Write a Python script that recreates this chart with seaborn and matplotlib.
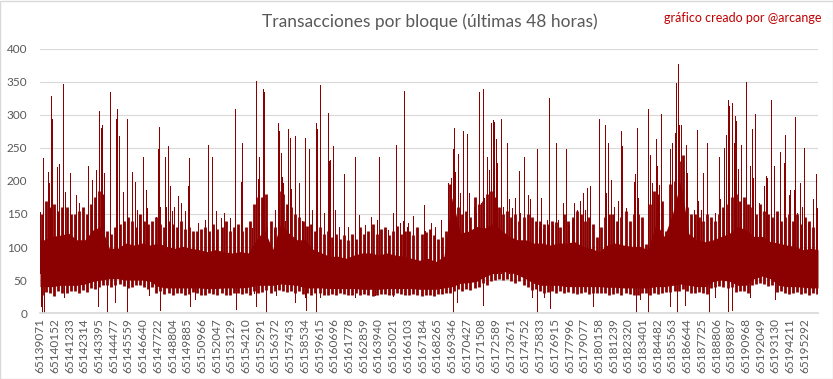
import numpy as np
import pandas as pd
import matplotlib
matplotlib.use("Agg")
import matplotlib.pyplot as plt
import seaborn as sns

# block range shown (last 48 hours)
first_block = 65139071
n_blocks = 57200
seg_len = 600      # solid body resolution
fringe_len = 300   # fringe (ragged edge) resolution

x_labels = ["65139071", "65140152", "65141233", "65142314", "65143395", "65144477", "65145559",
            "65146640", "65147722", "65148804", "65149885", "65150966", "65152047", "65153129",
            "65154210", "65155291", "65156372", "65157453", "65158534", "65159615", "65160696",
            "65161778", "65162859", "65163940", "65165021", "65166103", "65167184", "65168265",
            "65169346", "65170427", "65171508", "65172589", "65173671", "65174752", "65175833",
            "65176915", "65177996", "65179077", "65180158", "65181239", "65182320", "65183401",
            "65184482", "65185563", "65186644", "65187725", "65188806", "65189887", "65190968",
            "65192049", "65193130", "65194211", "65195292"]

# solid part of the series, per 600-block segment (upper / lower edge)
body_hi = [111, 116, 118, 121, 111, 111, 126, 131, 98, 98, 106, 103, 106, 103, 106, 101,
           98, 101, 98, 96, 93, 96, 93, 91, 93, 91, 111, 126, 96, 136, 121, 111,
           111, 96, 91, 86, 86, 83, 88, 91, 91, 88, 91, 88, 86, 83, 80, 83,
           78, 86, 175, 121, 124, 131, 129, 136, 126, 116, 111, 111, 106, 106,
           103, 106, 106, 108, 101, 98, 93, 103, 106, 103, 101, 101, 96, 136, 116, 150,
           200, 120, 111, 108, 111, 116, 121, 131, 126, 116, 116, 108, 106, 103, 101, 96, 98, 96]
body_lo = [40, 40, 42, 42, 42, 44, 48, 50, 52, 52, 50, 50, 50, 48,
           40, 38, 38, 38, 38, 38, 37, 37, 38, 38, 38, 39,
           42, 42, 42, 44, 43, 42,
           38, 38, 38, 37, 37, 37, 37, 36, 36, 36, 37, 37, 37, 37, 36, 36, 36, 38, 40,
           45, 46, 48, 55, 60, 63, 62, 58, 52, 45, 42, 42, 42,
           40, 40, 40, 40, 40, 39, 39, 38, 38, 38, 38, 40, 40, 42, 44, 42, 40, 40,
           48, 50, 48, 42, 42, 52, 56, 52, 42, 40, 40, 39, 38, 38]

# ragged edges, per 300-block half segment (highest / lowest block in each)
fringe_hi = [150, 170, 160, 165, 155, 160, 160, 150, 150, 155, 160, 150, 165, 175, 185, 180,
             125, 120, 130, 135, 140, 145, 140, 130, 150, 140, 135, 140, 145, 135, 130, 140,
             135, 130, 140, 128, 130, 125, 125, 128, 130, 125, 135, 128, 130, 140, 125, 130,
             135, 125, 130, 140, 165, 175, 175, 180, 140, 130, 185, 180, 165, 160, 150, 145,
             140, 132, 135, 125, 130, 120, 125, 115, 120, 112, 118, 110, 120, 112, 130, 120,
             125, 135, 120, 128, 130, 118, 125, 132, 120, 125, 125, 118, 130, 120, 122, 128,
             118, 112, 115, 125, 195, 200, 160, 150, 155, 145, 175, 165, 170, 180, 185, 175,
             160, 150, 155, 145, 150, 140, 145, 150, 145, 140, 140, 135, 135, 140, 138, 130,
             150, 140, 145, 155, 150, 140, 145, 135, 115, 130, 145, 150, 150, 140, 145, 155,
             140, 150, 150, 145, 105, 165, 185, 180, 170, 125, 195, 200, 230, 240, 160, 150,
             150, 145, 140, 150, 145, 140, 150, 160, 165, 175, 180, 170, 175, 165, 160, 150,
             165, 155, 150, 145, 155, 140, 145, 150, 140, 150, 135, 145, 140, 130, 145, 135]
fringe_lo = [28, 32, 30, 26, 33, 30, 31, 34, 33, 30, 35, 32, 38, 36, 40, 42, 43, 40, 42, 44,
             41, 38, 40, 42, 42, 39, 37, 40, 30, 33, 29, 31, 28, 30, 31, 27, 29, 32, 30, 28,
             28, 30, 29, 27, 30, 28, 27, 31, 30, 29, 31, 28, 33, 31, 32, 35, 31, 33, 35, 33,
             32, 34, 31, 33, 29, 30, 28, 31, 30, 27, 28, 29, 27, 30, 29, 28, 28, 30, 27, 29,
             28, 26, 27, 29, 29, 27, 28, 30, 29, 28, 27, 29, 28, 26, 27, 28, 26, 29, 29, 30,
             31, 33, 36, 34, 37, 35, 38, 40, 45, 42, 48, 50, 52, 50, 51, 48, 46, 49, 42, 40,
             35, 37, 33, 31, 32, 34, 31, 33, 30, 32, 31, 29, 30, 32, 29, 31, 31, 30, 30, 28,
             29, 31, 28, 30, 29, 27, 28, 30, 30, 28, 31, 29, 30, 32, 32, 34, 34, 36, 33, 31,
             30, 32, 31, 29, 38, 40, 41, 39, 38, 40, 32, 34, 33, 31, 42, 44, 46, 44, 41, 43,
             32, 34, 31, 29, 30, 32, 29, 31, 28, 30, 29, 27]

# individual blocks with many transactions (offset from first block, value)
peak_offset = [0, 245, 563, 686, 809, 907, 1225, 1373, 1716, 1838, 2231, 2623, 2868, 3555, 3800,
               4094, 4364, 4462, 4585, 4732, 5149, 5590, 5688, 5835, 6129, 6399, 6767, 6988,
               7112, 7308, 7602, 7774, 7847, 8509, 8705, 8779, 8853, 9171, 9245, 9441, 9539, 9735,
               9882, 10177, 10373, 10667, 10912, 10986, 11648, 12138, 12334, 12678, 12972, 13315,
               13536, 13953, 14370, 14786, 14835, 15571, 15890, 16012, 16110, 16380, 16454, 16503,
               16723, 17189,
               17313, 17534, 17608, 17706, 17828, 17902, 18049, 18270, 18368, 18490, 18735, 18784,
               19079, 19299, 19471, 19520, 19814, 19986, 20256, 20329, 20550, 20844, 21138, 21237,
               21310, 21506, 21702, 21948, 22315, 22609, 23124, 23468, 23909, 24302, 24767, 24890,
               25552, 25944, 26141, 26484, 26680, 26729, 26974,
               27049, 27392, 28202, 28324, 28766, 29011, 29477, 29967, 30188, 30359, 30433, 30531,
               30703, 30899, 31070, 31414, 31561, 31880, 32051, 32247, 32444, 32542, 32664, 32836,
               33032, 33155, 33277, 33375, 33498, 33621, 33866, 34062, 34307, 34503, 34699, 34945,
               35190, 35312, 35558, 35852, 36048, 36514, 36661, 36955,
               36859, 37275, 37447, 37717, 37913, 38060, 38428, 38649, 38869, 39114, 39237, 39482,
               39678, 39924, 40046, 40218, 40414, 41076, 41517, 41615, 41738, 42008, 42228, 42474,
               42694, 42792, 43087, 43651, 43773, 43896, 43994, 44680, 44877, 45024, 45269, 45367,
               45490, 45637, 46299, 46470, 46667, 46789, 46887, 46985,
               47011, 47109, 47256, 47502, 47575, 47894, 48066, 48311, 48384, 48630, 48728, 49046,
               49610, 49905, 49978, 50272, 50469, 50567, 50640, 50861, 51008, 51131, 51204, 51327,
               51523, 51891, 52185, 52332, 52430, 52553, 52847, 53215, 53362, 53485, 53730, 53975,
               54196, 54416, 54686, 54809, 55054, 55176, 55422, 55495, 55667, 55863, 55986, 56157,
               56476, 56819, 57064, 57162]
peak_value = [153, 235, 213, 197, 329, 294, 221, 226, 347, 184, 212, 179, 166, 222, 202,
              216, 306, 280, 285, 212, 335, 294, 309, 268, 184, 294, 213, 199,
              156, 149, 237, 187, 159, 146, 249, 282, 161, 237, 161, 253, 193, 154,
              161, 178, 167, 155, 193, 235, 136, 141, 255, 237, 155, 144,
              151, 144, 309, 199, 258, 129, 351, 203, 237, 339, 334, 275,
              131, 126,
              156, 288, 275, 243, 206, 197, 139, 278, 265, 188, 268, 258,
              197, 139, 212, 265, 248, 156, 288, 278, 345, 151, 303, 230,
              232, 253, 156, 131, 211, 131, 236, 149, 134, 146, 141, 236,
              126, 151, 254, 136, 139, 336, 131,
              136, 147, 163, 124, 136, 131, 141, 197, 205, 248, 280, 213,
              241, 182, 276, 271, 182, 161, 151, 334, 167, 339, 174, 237,
              217, 288, 292, 290, 264, 227, 294, 161, 258, 172, 159, 174,
              215, 151, 237, 179, 173, 249, 131, 127,
              174, 141, 326, 134, 257, 141, 166, 248, 134, 141, 167, 156,
              169, 182, 156, 189, 192, 294, 284, 182, 258, 202, 161, 169,
              275, 253, 159, 199, 210, 280, 174, 309, 240, 197, 263, 222,
              194, 301, 248, 258, 273, 349, 377, 268,
              285, 284, 151, 255, 212, 139, 156, 277, 169, 156, 212, 257,
              151, 236, 172, 250, 269, 322, 313, 318, 258, 299, 291, 218,
              255, 350, 222, 279, 205, 301, 167, 192, 207, 205, 322, 222,
              144, 244, 227, 269, 179, 187, 187, 297, 151, 197, 161, 250,
              136, 172, 210, 159]

# blocks with very few transactions (offset from first block, value)
dip_offset = [48, 122, 318, 1789, 4290, 4903, 5516, 6375, 8043, 8853, 11035, 11403, 14394,
              15743, 15914, 16650, 17362, 18784, 19471, 19545, 20256, 20599, 23174, 24596,
              25944, 30359, 30654, 32542, 36171, 36514, 37029, 37472, 40635, 43847, 44141,
              44680, 46299, 46815, 47453, 49169, 49659, 50567, 50861, 52234, 54073]
dip_value = [10, 2, 0, 25, 10, 0, 17, 0, 27, 5, 10, 22, 6,
             30, 10, 0, 27, 17, 25, 5, 2, 25, 24, 27,
             26, 0, 17, 12, 25, 2, 25, 7, 10, 2, 22,
             0, 10, 0, 12, 2, 25, 3, 5, 25, 22]

line_color = "#8b0000"
text_color = "#595959"
grid_color = "#d9d9d9"

sns.set_theme(style="white")
plt.rcParams["font.family"] = ["Lato", "DejaVu Sans"]

last_block = first_block + n_blocks - 1
seg_mid = np.minimum(first_block + seg_len * np.arange(len(body_hi)) + seg_len / 2, last_block)
body = pd.DataFrame({
    "block": np.concatenate([[first_block], seg_mid, [last_block]]),
    "hi": [body_hi[0]] + body_hi + [body_hi[-1]],
    "lo": [body_lo[0]] + body_lo + [body_lo[-1]],
})
fringe = pd.DataFrame({
    "block": first_block + fringe_len * np.arange(len(fringe_hi)) + fringe_len / 2,
    "hi": fringe_hi,
    "lo": fringe_lo,
})
peaks = pd.DataFrame({"block": first_block + np.array(peak_offset), "value": peak_value})
dips = pd.DataFrame({"block": first_block + np.array(dip_offset), "value": dip_value})

fig = plt.figure(figsize=(8.33, 3.79), dpi=100)
ax = fig.add_axes([0.048, 0.174, 0.934, 0.697])

ax.fill_between(body["block"], body["lo"], body["hi"], color=line_color, lw=0)
ax.vlines(fringe["block"], fringe["lo"], fringe["hi"], color=line_color, lw=2.0)
ax.vlines(peaks["block"], 60, peaks["value"], color=line_color, lw=0.65, antialiased=False)
ax.vlines(dips["block"], dips["value"], 60, color=line_color, lw=0.65, antialiased=False)

ax.set_xlim(first_block - 0.5, first_block + n_blocks - 0.5)
ax.set_ylim(0, 400)
ax.set_yticks(range(0, 401, 50))
ax.set_xticks([int(s) for s in x_labels])
ax.set_xticklabels(x_labels, rotation=90)
ax.tick_params(axis="x", length=0, pad=3.5, labelsize=8.5, labelcolor=text_color)
ax.tick_params(axis="y", length=0, pad=9, labelsize=8.5, labelcolor=text_color)
ax.yaxis.grid(True, color=grid_color, lw=0.8)
ax.set_axisbelow(True)
sns.despine(ax=ax, left=True)
ax.spines["bottom"].set_color(grid_color)

fig.text(0.516, 0.943, "Transacciones por bloque (últimas 48 horas)", ha="center", va="center",
         fontsize=12.5, color=text_color)
fig.text(0.986, 0.953, "gráfico creado por @arcange", ha="right", va="center",
         fontsize=9, color="#c00000")
fig.patches.append(plt.Rectangle((0.0006, 0.0013), 0.9988, 0.997, transform=fig.transFigure,
                                 fill=False, edgecolor=grid_color, lw=1))

fig.savefig("out.png", dpi=100)
